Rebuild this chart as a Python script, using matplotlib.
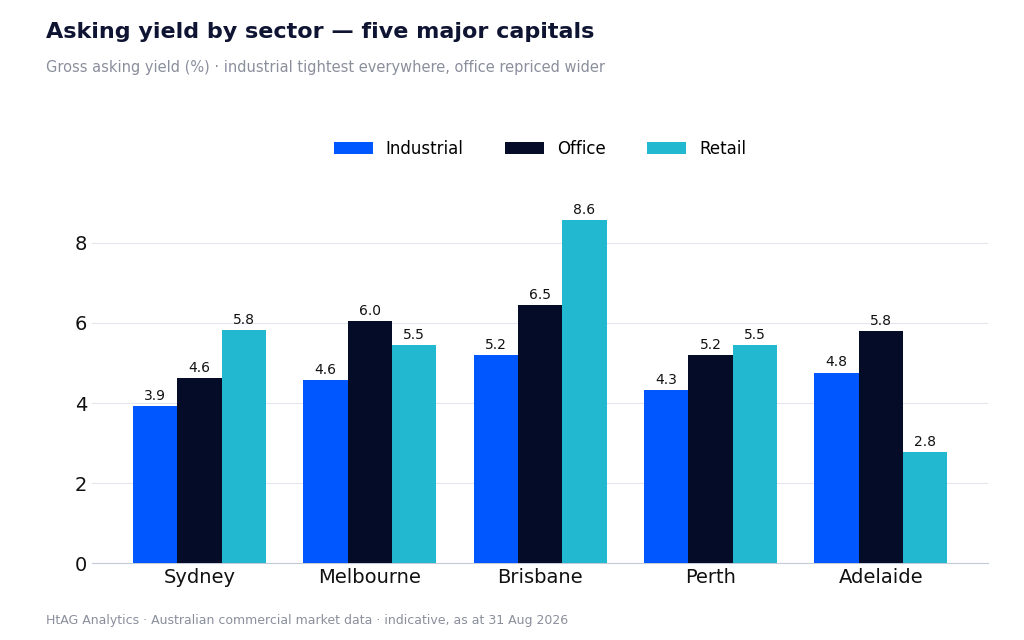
import matplotlib.pyplot as plt
import numpy as np

cities = ["Sydney", "Melbourne", "Brisbane", "Perth", "Adelaide"]
industrial = [3.93, 4.58, 5.19, 4.33, 4.76]
office = [4.62, 6.04, 6.45, 5.19, 5.80]
retail = [5.82, 5.45, 8.56, 5.45, 2.78]

series = [("Industrial", industrial, "#0057ff"),
          ("Office", office, "#050c28"),
          ("Retail", retail, "#22b8cf")]

fig = plt.figure(figsize=(10.24, 6.4), dpi=100)
ax = fig.add_axes([0.09, 0.12, 0.875, 0.565])

x = np.arange(len(cities))
w = 0.26
for i, (name, vals, col) in enumerate(series):
    pos = x + (i - 1) * w
    bars = ax.bar(pos, vals, w, color=col, label=name, zorder=3)
    for b, v in zip(bars, vals):
        ax.text(b.get_x() + b.get_width() / 2, v + 0.08, f"{v:.1f}",
                ha="center", va="bottom", fontsize=10, color="#111111")

ax.set_ylim(0, 9.03)
ax.set_xlim(-0.63, 4.63)
ax.set_yticks([0, 2, 4, 6, 8])
ax.set_xticks(x)
ax.set_xticklabels(cities)
ax.tick_params(axis="both", labelsize=14, length=0, colors="#111111")
ax.grid(axis="y", color="#e3e6ee", linewidth=0.8, zorder=0)
for s in ["top", "right", "left"]:
    ax.spines[s].set_visible(False)
ax.spines["bottom"].set_color("#c5cad8")

ax.legend(loc="lower center", bbox_to_anchor=(0.5, 1.08), ncol=3, frameon=False,
          fontsize=12, handlelength=2.3, handleheight=0.8, columnspacing=2.5)

fig.text(0.045, 0.94, "Asking yield by sector — five major capitals",
         fontsize=16, fontweight="bold", color="#0f1433")
fig.text(0.045, 0.888, "Gross asking yield (%) · industrial tightest everywhere, office repriced wider",
         fontsize=10.5, color="#8a8f9c")
fig.text(0.045, 0.025, "HtAG Analytics · Australian commercial market data · indicative, as at 31 Aug 2026",
         fontsize=9, color="#8a8f9c")

fig.savefig("out.png", dpi=100)
